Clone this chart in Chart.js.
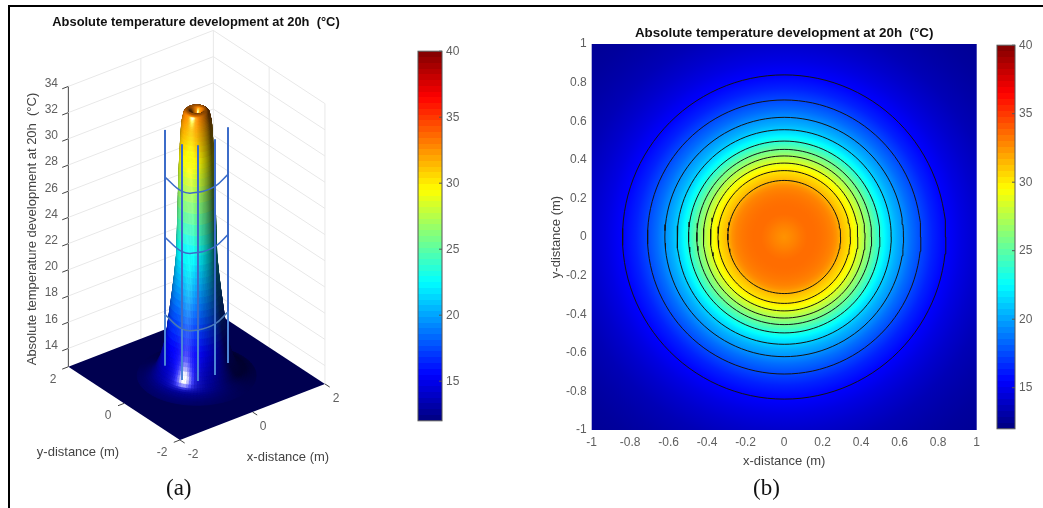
<!DOCTYPE html>
<html>
<head>
<meta charset="utf-8">
<title>Absolute temperature development at 20h</title>
<script src="https://cdn.jsdelivr.net/npm/chart.js@4/dist/chart.umd.min.js"></script>
<style>
  html, body { margin: 0; background: #fff; }
  body { width: 1043px; height: 508px; position: relative; overflow: hidden; }
  canvas { position: absolute; filter: blur(0.5px); }
  .frame-top { position: absolute; left: 8px; top: 5px; width: 1035px; height: 2px; background: #000; }
  .frame-left { position: absolute; left: 8px; top: 5px; width: 2px; height: 503px; background: #000; }
  .panel { position: absolute; top: 475px; font: 23px "Liberation Serif", serif; color: #111; }
</style>
</head>
<body>
<div class="frame-top"></div>
<div class="frame-left"></div>
<canvas id="surfaceChart" style="left:0;top:0" width="392" height="508"></canvas>
<canvas id="barA" style="left:400px;top:40px" width="70" height="392"></canvas>
<canvas id="fieldChart" style="left:540px;top:0" width="488" height="475"></canvas>
<canvas id="barB" style="left:980px;top:34px" width="63" height="406"></canvas>
<div class="panel" style="left:166px">(a)</div>
<div class="panel" style="left:753px">(b)</div>
<script>
// ── Data ───────────────────────────────────────
const TITLE = 'Absolute temperature development at 20h  (°C)';
const T_MIN = 12;
const T_MAX = 40;
const COLORBAR_TICKS = [15, 20, 25, 30, 35, 40];

// panel (b): radial temperature profile
const FIELD_RADIUS = [0, .03, .06, .09, .12, .16, .19, .22, .25, .27, .293, .31, .325, .344, .363, .383, .40, .42, .437, .454,
  .475, .497, .52, .537, .556, .585, .62, .66, .71, .77, .84, .92, 1.0, 1.1, 1.2, 1.3, 1.42, 2.0];
const FIELD_TEMP = [32.5, 32.7, 33.0, 33.3, 33.5, 33.5, 33.4, 33.2, 32.9, 32.5, 31.6, 31.1, 30.7, 30.2, 29.5, 28.7, 27.9, 27.0, 26.2, 25.5,
  24.5, 23.5, 22.5, 21.8, 21.2, 20.3, 19.5, 18.5, 17.5, 16.4, 15.5, 14.7, 14.1, 13.5, 13.1, 12.8, 12.6, 12.6];

const CONTOUR_RADII = [.84, .71, .62, .556, .497, .454, .42, .383, .344, .293];
const XY_TICKS = [-1, -.8, -.6, -.4, -.2, 0, .2, .4, .6, .8, 1];

// panel (a): height profile of the peak
const SURFACE_RADIUS = [0, .05, .1, .15, .2, .25, .275, .295, .315, .33, .35, .37, .385, .40, .42, .44, .48, .53, .59, .65, .72, .8, .9, 1.0, 1.15, 1.3];
const SURFACE_TEMP = [31.9, 32.1, 32.5, 32.8, 32.9, 32.8, 32.7, 32.4, 32.1, 31.7, 30.7, 29.4, 28.3, 26.5, 24.0, 21.8, 20.4, 19.0, 17.5, 16.0, 14.8, 13.9, 13.2, 12.9, 12.7, 12.6];

const Z_TICKS = [14, 16, 18, 20, 22, 24, 26, 28, 30, 32, 34];
const FLOOR_TICKS = [-2, 0, 2];
const Z_FLOOR = 12.6;

// blue sensor pillars and the rings tying them together
const PILLAR_X = [-.294, -.377, -.126, .328, .871];
const PILLAR_Y = [.752, .035, -.212, -.232, .008];
const PILLAR_TOP = 30.6;
const RING_Z = [27.0, 22.4, 16.5];

// ── Helpers ────────────────────────────────────
const FONT = "'Liberation Sans', Arial, sans-serif";
const GREY = '#5f5f5f';

const clamp = (v) => Math.max(0, Math.min(1, v));
const jet = (t) => {
  const f = clamp((t - T_MIN) / (T_MAX - T_MIN));
  return [clamp(1.5 - Math.abs(4 * f - 3)), clamp(1.5 - Math.abs(4 * f - 2)), clamp(1.5 - Math.abs(4 * f - 1))];
};
const rgb = (c) => `rgb(${c.map(v => Math.round(clamp(v) * 255)).join(',')})`;

// ── Colour bars ────────────────────────────────
const renderColorbar = (id, pad) => {
  const frame = {
    id: 'cbFrame',
    afterDraw(chart) {
      const { ctx, chartArea: a, scales } = chart;
      ctx.save();
      ctx.strokeStyle = '#555';
      ctx.lineWidth = 1;
      ctx.strokeRect(a.left, a.top, a.right - a.left, a.bottom - a.top);
      COLORBAR_TICKS.forEach(v => {
        const y = scales.y.getPixelForValue(v);
        ctx.beginPath();
        ctx.moveTo(a.right - 3, y);
        ctx.lineTo(a.right, y);
        ctx.stroke();
      });
      ctx.restore();
    },
  };
  new Chart(document.getElementById(id), {
    type: 'bar',
    data: {
      labels: ['T'],
      datasets: [{
        data: [[T_MIN, T_MAX]],
        barPercentage: 1,
        categoryPercentage: 1,
        backgroundColor: (c) => {
          const a = c.chart.chartArea;
          if (!a) return '#000';
          const g = c.chart.ctx.createLinearGradient(0, a.bottom, 0, a.top);
          for (let i = 0; i < 64; i++) {
            const col = rgb(jet(T_MIN + (i + .5) / 64 * (T_MAX - T_MIN)));
            g.addColorStop(i / 64, col);
            g.addColorStop((i + 1) / 64, col);
          }
          return g;
        },
      }],
    },
    options: {
      responsive: false,
      animation: false,
      layout: { padding: pad },
      plugins: { legend: { display: false }, tooltip: { enabled: false } },
      scales: {
        x: { display: false },
        y: {
          position: 'right',
          min: T_MIN,
          max: T_MAX,
          grid: { display: false, drawTicks: false },
          border: { display: false },
          afterBuildTicks: (s) => { s.ticks = COLORBAR_TICKS.map(v => ({ value: v })); },
          afterFit: (s) => { s.width = 28; },
          ticks: { color: GREY, padding: 4, font: { size: 12, family: FONT }, autoSkip: false },
        },
      },
    },
    plugins: [frame],
  });
};

// ── Panel (b): filled field with contours ──────
const renderField = () => {
  const field = {
    id: 'field',
    beforeDatasetsDraw(chart) {
      const { ctx, chartArea: a, scales } = chart;
      const cx = scales.x.getPixelForValue(0);
      const cy = scales.y.getPixelForValue(0);
      const unit = scales.x.getPixelForValue(1) - cx;
      const rMax = FIELD_RADIUS[FIELD_RADIUS.length - 1];
      const g = ctx.createRadialGradient(cx, cy, 0, cx, cy, rMax * unit);
      FIELD_RADIUS.forEach((r, i) => g.addColorStop(r / rMax, rgb(jet(FIELD_TEMP[i]))));
      ctx.save();
      ctx.fillStyle = g;
      ctx.fillRect(a.left, a.top, a.right - a.left, a.bottom - a.top);
      ctx.restore();
    },
  };
  const circle = (r) => {
    const pts = [];
    for (let a = 0; a <= 360; a += 3) {
      pts.push({ x: r * Math.cos(a * Math.PI / 180), y: r * Math.sin(a * Math.PI / 180) });
    }
    return pts;
  };
  const axis = (title, titlePad, extra) => ({
    min: -1,
    max: 1,
    grid: { display: false, drawTicks: false },
    border: { display: false },
    afterBuildTicks: (s) => { s.ticks = XY_TICKS.map(v => ({ value: v })); },
    ticks: {
      color: GREY,
      autoSkip: false,
      maxRotation: 0,
      font: { size: 12, family: FONT },
      callback: (v) => String(+v.toFixed(1)),
      ...extra,
    },
    title: { display: true, text: title, color: '#444', font: { size: 13, family: FONT }, padding: titlePad },
  });
  new Chart(document.getElementById('fieldChart'), {
    type: 'scatter',
    data: {
      datasets: CONTOUR_RADII.map(r => ({
        data: circle(r),
        showLine: true,
        borderColor: '#141414',
        borderWidth: 1,
        pointRadius: 0,
      })),
    },
    options: {
      responsive: false,
      animation: false,
      layout: { padding: { right: 51.3 } },
      plugins: {
        legend: { display: false },
        tooltip: { enabled: false },
        title: {
          display: true,
          fullSize: false,
          text: TITLE,
          color: '#111',
          font: { size: 13.4, weight: 'bold', family: FONT, lineHeight: 1 },
          padding: { top: 27, bottom: 3.6 },
        },
      },
      scales: {
        x: { ...axis('x-distance (m)', { top: 2, bottom: 6 }, { padding: 5 }), afterFit: (s) => { s.height = 45; } },
        y: { ...axis('y-distance (m)', { top: 9, bottom: 0 }, { padding: 5 }), afterFit: (s) => { s.width = 51.7; } },
      },
    },
    plugins: [field],
  });
};

// ── Panel (a): lit surface seen in parallel projection ──
const renderSurface = () => {
  const ORIGIN = [196.65, 375.35];
  const project = (x, y, z) => ({
    x: ORIGIN[0] + 36.25 * x - 27.9 * y,
    y: ORIGIN[1] - 14 * x - 18.3 * y - (z - Z_FLOOR) * 13.1,
  });
  const line = (points, color, width, extra) => ({
    data: points,
    showLine: true,
    borderColor: color,
    borderWidth: width,
    pointRadius: 0,
    clip: false,
    ...extra,
  });

  // pillars and rings go first: the first dataset is painted last
  const blue = [];
  PILLAR_X.forEach((px, i) => {
    const py = PILLAR_Y[i];
    blue.push(line([project(px, py, RING_Z[2]), project(px, py, PILLAR_TOP)], '#3c6cc9', 2));
    blue.push(line([project(px, py, Z_FLOOR), project(px, py, RING_Z[2])], '#4b84d6', 2));
  });
  RING_Z.forEach((z, i) => {
    blue.push(line(PILLAR_X.map((px, k) => project(px, PILLAR_Y[k], z)), i === 2 ? '#4a79b4' : '#3c6cc9', 1.5, { tension: .4 }));
  });

  const grid = [];
  const wall = '#e8e8e8';
  Z_TICKS.forEach(z => {
    grid.push(line([project(-2, 2, z), project(2, 2, z)], wall, 1));
    grid.push(line([project(2, 2, z), project(2, -2, z)], wall, 1));
    grid.push(line([project(-2.17, 2, z), project(-2, 2, z)], '#444', 1));
  });
  [[0, 2], [2, 2], [2, 0], [2, -2]].forEach(([x, y]) => {
    grid.push(line([project(x, y, Z_FLOOR), project(x, y, 34)], wall, 1));
  });
  grid.push(line([project(-2, 2, Z_FLOOR), project(-2, 2, 34)], '#444', 1));
  FLOOR_TICKS.forEach(t => {
    grid.push(line([project(-2, t, Z_FLOOR), project(-2.17, t, Z_FLOOR)], '#444', 1));
    grid.push(line([project(t, -2, Z_FLOOR), project(t, -2.17, Z_FLOOR)], '#444', 1));
  });

  const normalize = (v) => {
    const l = Math.hypot(v[0], v[1], v[2]);
    return v.map(c => c / l);
  };
  const LIGHT = normalize([-.85, -.33, .3]);
  const HALF = normalize([-.78, -.52, .36]);
  const SLOPE = .33;
  const shade = (t, n) => {
    const d = Math.max(0, n[0] * LIGHT[0] + n[1] * LIGHT[1] + n[2] * LIGHT[2]);
    const h = Math.max(0, n[0] * HALF[0] + n[1] * HALF[1] + n[2] * HALF[2]);
    const s = .9 * Math.pow(h, 100) + .22 * Math.pow(h, 25) + .04 * Math.pow(h, 8);
    const k = .3 + .76 * d;
    return rgb(jet(t).map(c => c * k + s));
  };

  // slope at each profile ring, from its neighbours
  const last = SURFACE_RADIUS.length - 1;
  const slopes = SURFACE_RADIUS.map((r, i) => {
    const a = Math.max(0, i - 1), b = Math.min(last, i + 1);
    return (SURFACE_TEMP[b] - SURFACE_TEMP[a]) / (SURFACE_RADIUS[b] - SURFACE_RADIUS[a]);
  });

  const surface = {
    id: 'surface',
    afterDatasetDraw(chart, args) {
      if (args.index !== blue.length) return;
      const { ctx, scales } = chart;
      const px = (p) => [scales.x.getPixelForValue(p.x), scales.y.getPixelForValue(p.y)];
      ctx.save();
      ctx.lineWidth = .7;
      ctx.fillStyle = shade(Z_FLOOR, [0, 0, 1]);
      ctx.beginPath();
      [[-2, -2], [2, -2], [2, 2], [-2, 2]].forEach(([x, y], i) => {
        const q = px(project(x, y, Z_FLOOR));
        if (i) ctx.lineTo(q[0], q[1]); else ctx.moveTo(q[0], q[1]);
      });
      ctx.closePath();
      ctx.fill();

      const quads = [];
      const N = 96, SUB = 3;
      for (let i = 0; i < last; i++) {
        for (let s = 0; s < SUB; s++) {
          const f0 = s / SUB, f1 = (s + 1) / SUB, fm = (f0 + f1) / 2;
          const mix = (arr, f) => arr[i] + (arr[i + 1] - arr[i]) * f;
          const r0 = mix(SURFACE_RADIUS, f0), r1 = mix(SURFACE_RADIUS, f1), rm = mix(SURFACE_RADIUS, fm);
          const t0 = mix(SURFACE_TEMP, f0), t1 = mix(SURFACE_TEMP, f1), tm = mix(SURFACE_TEMP, fm);
          const slope = mix(slopes, fm) * SLOPE;
          for (let j = 0; j < N; j++) {
            const a0 = j / N * Math.PI * 2, a1 = (j + 1) / N * Math.PI * 2, am = (a0 + a1) / 2;
            const xm = rm * Math.cos(am), ym = rm * Math.sin(am);
            quads.push({
              depth: xm * 27.9 + ym * 36.25 - tm * 80.5,
              color: shade(tm, normalize([-slope * Math.cos(am), -slope * Math.sin(am), 1])),
              pts: [
                px(project(r0 * Math.cos(a0), r0 * Math.sin(a0), t0)),
                px(project(r1 * Math.cos(a0), r1 * Math.sin(a0), t1)),
                px(project(r1 * Math.cos(a1), r1 * Math.sin(a1), t1)),
                px(project(r0 * Math.cos(a1), r0 * Math.sin(a1), t0)),
              ],
            });
          }
        }
      }
      quads.sort((a, b) => b.depth - a.depth);
      quads.forEach(q => {
        ctx.fillStyle = q.color;
        ctx.strokeStyle = q.color;
        ctx.beginPath();
        q.pts.forEach((p, i) => { if (i) ctx.lineTo(p[0], p[1]); else ctx.moveTo(p[0], p[1]); });
        ctx.closePath();
        ctx.fill();
        ctx.stroke();
      });
      ctx.restore();
    },
    afterDraw(chart) {
      const { ctx, scales } = chart;
      const text = (s, x, y, size, color) => {
        ctx.font = `${size}px ${FONT}`;
        ctx.fillStyle = color;
        ctx.fillText(s, scales.x.getPixelForValue(x), scales.y.getPixelForValue(y));
      };
      ctx.save();
      ctx.textAlign = 'center';
      ctx.textBaseline = 'middle';
      Z_TICKS.forEach(z => {
        const p = project(-2, 2, z);
        text(String(z), p.x - 17, p.y - 3, 12, GREY);
      });
      const floorLabels = [
        ['2', 53, 380], ['0', 108, 416], ['-2', 162, 453],
        ['-2', 193, 455], ['0', 263, 427], ['2', 336, 399],
      ];
      floorLabels.forEach(([s, x, y]) => text(s, x, y, 12, GREY));
      text('y-distance (m)', 78, 452, 13, '#444');
      text('x-distance (m)', 288, 457, 13, '#444');
      ctx.translate(scales.x.getPixelForValue(32), scales.y.getPixelForValue(229));
      ctx.rotate(-Math.PI / 2);
      ctx.font = `13px ${FONT}`;
      ctx.fillStyle = '#444';
      ctx.fillText(TITLE, 0, 0);
      ctx.restore();
    },
  };

  new Chart(document.getElementById('surfaceChart'), {
    type: 'scatter',
    data: { datasets: [...blue, ...grid] },
    options: {
      responsive: false,
      animation: false,
      plugins: {
        legend: { display: false },
        tooltip: { enabled: false },
        title: {
          display: true,
          text: TITLE,
          color: '#111',
          font: { size: 12.9, weight: 'bold', family: FONT, lineHeight: 1 },
          padding: { top: 16.5, bottom: 2.6 },
        },
      },
      scales: {
        x: { display: false, min: 0, max: 392 },
        y: { display: false, min: 32, max: 508, reverse: true },
      },
    },
    plugins: [surface],
  });
};

renderSurface();
renderField();
renderColorbar('barA', { left: 18, right: 0, top: 10, bottom: 10 });
renderColorbar('barB', { left: 17, right: 0, top: 10, bottom: 10 });
</script>
</body>
</html>
